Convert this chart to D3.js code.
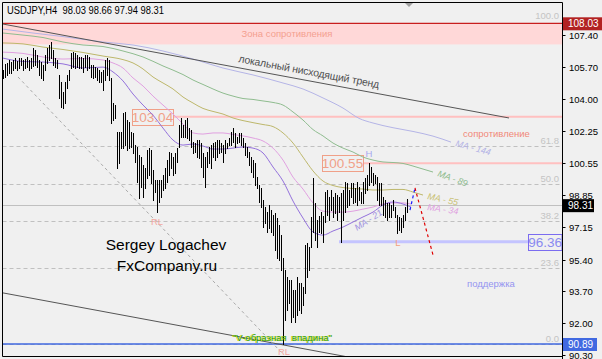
<!DOCTYPE html>
<html><head><meta charset="utf-8">
<script src="https://cdn.jsdelivr.net/npm/d3@7/dist/d3.min.js"></script>
<style>
html,body{margin:0;padding:0;background:#f0f0f0;}
svg{display:block;font-family:"Liberation Sans",Arial,sans-serif;}
</style></head><body>
<svg id="c" width="602" height="359"></svg>
<script>
// ---------------- DATA ----------------
const title = "USDJPY,H4  98.03 98.66 97.94 98.31";
const priceTicks = [107.40,105.70,104.00,102.25,100.55,98.85,97.15,95.40,93.70,92.00,90.30];

const highs = [
105.53,105.85,105.91,106.07,105.96,106.07,106.17,106.01,106.17,106.17,
106.07,106.12,106.23,106.07,106.17,106.71,106.60,106.34,106.07,105.96,
105.80,106.34,106.71,106.87,107.03,106.60,106.17,106.07,105.27,104.89,
104.36,104.89,105.27,105.53,106.44,106.50,106.44,106.34,106.23,106.23,
106.17,106.34,106.34,106.23,105.80,105.80,105.69,105.64,105.53,105.43,
105.53,106.07,106.17,106.07,105.11,103.77,103.66,102.22,102.22,102.22,
103.24,103.29,102.86,102.75,102.22,102.17,101.52,101.42,100.99,100.88,
100.46,100.30,101.26,101.36,101.26,100.19,99.65,99.65,99.65,99.65,
99.92,100.30,100.72,101.15,101.10,100.88,101.10,101.36,102.59,102.97,
102.59,102.86,102.97,102.43,102.33,101.68,101.63,101.79,101.79,101.63,
101.10,100.88,101.15,101.42,101.52,101.63,101.68,101.79,101.79,101.63,
101.52,101.79,101.63,101.90,102.22,102.43,102.17,101.95,102.17,102.17,
101.90,101.63,101.42,101.15,100.88,100.72,100.56,99.81,99.39,99.23,
98.59,98.21,97.94,98.32,98.05,97.78,97.89,97.62,97.25,96.72,
95.49,94.84,94.47,94.31,94.31,93.78,93.78,94.47,94.15,94.15,
93.93,96.18,96.29,96.07,97.67,99.76,98.43,97.52,97.73,97.94,
97.73,99.01,99.12,98.75,99.12,98.75,98.96,98.85,98.75,98.96,
99.12,99.55,99.49,99.12,99.49,99.49,99.23,99.55,99.28,99.01,
99.55,99.76,99.92,100.56,100.35,100.03,99.92,99.81,99.49,99.49,
98.74,98.59,98.43,98.43,98.32,98.59,98.21,97.78,97.68,97.62,
97.78,98.21,98.66];

const lows = [
105.11,105.16,105.27,105.37,105.37,105.53,105.64,105.53,105.64,105.80,
105.53,105.64,105.69,105.53,105.64,105.75,105.80,105.69,105.27,105.11,
105.00,105.53,105.91,106.07,106.17,105.80,105.69,105.64,104.04,103.56,
103.50,103.77,104.57,105.00,105.64,105.69,105.64,105.69,105.64,105.64,
105.43,105.69,105.53,105.64,105.16,105.11,105.16,105.00,104.89,104.89,
104.47,105.00,105.27,105.00,102.70,102.86,102.97,100.30,100.56,101.36,
101.36,101.52,101.26,101.36,101.42,101.10,100.62,99.55,98.69,99.28,
98.74,99.23,99.76,99.92,99.49,98.59,99.01,97.94,98.48,98.75,
99.12,99.23,99.55,99.92,100.30,99.92,100.03,100.62,101.42,101.95,
101.95,101.95,101.90,101.79,101.42,101.10,101.15,100.88,100.83,100.35,
99.81,99.28,100.35,100.56,100.30,100.88,100.72,100.88,101.10,101.15,
100.62,101.10,101.36,101.52,101.52,101.68,101.42,101.63,101.68,101.52,
101.42,100.99,100.88,100.46,100.08,99.81,99.39,99.23,98.48,98.21,
97.14,97.36,96.88,97.09,96.88,96.71,95.91,95.49,95.38,94.84,
90.89,92.17,92.71,93.08,92.06,92.33,92.06,92.44,92.71,92.55,
92.97,93.61,94.47,94.84,96.07,96.88,96.45,96.07,96.88,96.82,
96.34,97.41,97.78,97.52,98.05,97.68,97.89,97.52,97.94,96.34,
97.52,97.94,98.21,98.32,98.74,98.43,98.48,98.32,98.59,98.43,
98.43,98.96,99.12,99.39,99.55,99.39,99.49,98.59,98.32,98.32,
97.78,97.68,97.52,97.68,97.68,98.05,97.68,96.82,96.98,96.88,
97.14,97.52,97.94];

// moving averages, sampled [bar index, price]
const ma21 = [[0,106.17],[10,105.99],[20,105.96],[30,105.86],[40,105.64],[50,105.69],[55,105.43],[60,104.95],[65,104.25],[70,103.66],[75,103.12],[80,102.43],[85,101.79],[90,101.52],[95,101.58],[100,101.47],[105,101.31],[110,101.31],[115,101.36],[120,101.42],[125,101.36],[130,101.10],[135,100.35],[140,99.60],[145,98.53],[150,97.62],[155,96.88],[160,96.71],[165,96.93],[170,97.14],[175,97.41],[180,97.68],[185,97.94],[190,98.32],[195,98.48],[200,98.37],[204,98.21]];
const ma34 = [[0,106.49],[10,106.42],[20,106.23],[30,106.12],[40,106.15],[50,106.07],[55,105.91],[60,105.64],[65,105.11],[70,104.68],[75,104.14],[80,103.66],[85,103.18],[90,102.65],[95,102.17],[100,102.11],[105,102.17],[110,102.17],[115,102.09],[120,102.01],[125,101.90],[130,101.74],[135,101.36],[140,100.72],[145,99.81],[150,99.17],[155,98.43],[160,97.99],[165,97.94],[170,97.94],[175,97.99],[180,98.10],[185,98.21],[190,98.37],[195,98.43],[200,98.43],[204,98.37]];
const ma55 = [[0,106.98],[10,106.93],[20,106.76],[30,106.63],[40,106.47],[50,106.28],[60,106.09],[65,105.91],[70,105.59],[75,105.16],[80,104.84],[85,104.52],[90,104.09],[95,103.77],[100,103.48],[105,103.32],[110,103.18],[115,102.97],[120,102.83],[125,102.72],[130,102.62],[135,102.51],[140,102.17],[145,101.63],[150,100.88],[155,100.14],[160,99.60],[165,99.36],[170,99.25],[175,99.20],[180,99.17],[185,99.12],[190,99.12],[195,99.15],[200,99.15],[205,99.01],[210,98.85]];
const ma89 = [[0,107.51],[10,107.40],[20,107.27],[30,107.03],[40,106.87],[50,106.79],[60,106.55],[70,106.23],[80,105.75],[90,105.29],[95,105.00],[100,104.76],[105,104.52],[110,104.30],[115,104.14],[120,104.01],[125,103.96],[130,103.88],[135,103.80],[140,103.66],[145,103.29],[150,102.86],[155,102.35],[160,102.01],[165,101.63],[170,101.36],[175,101.15],[180,100.88],[185,100.72],[190,100.62],[195,100.59],[200,100.54],[205,100.40],[210,100.24],[215,100.08]];
const ma144 = [[0,107.72],[15,107.51],[30,107.32],[50,107.03],[65,106.87],[80,106.55],[95,106.12],[100,105.96],[110,105.64],[125,105.27],[140,104.84],[150,104.52],[160,104.04],[170,103.50],[178,102.95],[185,102.70],[195,102.45],[205,102.25],[215,102.00],[224,101.68]];

// drawn objects
const trendUpper = [[0,107.99],[253,102.97]];
const trendLower = [[0,93.62],[256,88.54]];
const trendDashed = [[7.5,105.16],[140,90.35]];
const forecastUp = [[203.5,98.05],[206,99.23]];
const forecastDown = [[206,99.23],[215,95.65]];
const resistanceZone = [108.03, 106.90];
const topLevel = 108.03, bottomLevel = 90.89, currentPrice = 98.31;
const fibLevels = [100.0, 61.8, 50.0, 38.2, 23.6, 0.0];
const resistLevels = [{price:103.04, from:85, boxFrom:64.5}, {price:100.55, from:180, boxFrom:159.5}];
const supportLevel = {price:96.36, from:168, to:262.5};

// ---------------- CHART ----------------
const svg = d3.select("#c");
const L = 2.5, R = 562.5, T = 2.5, B = 356.5;
const x = d3.scaleLinear().domain([0, 279.5]).range([3, 562]);
const y = d3.scaleLinear().domain([90.195, 109.115]).range([357, 3]);
const fibPrice = p => bottomLevel + (topLevel - bottomLevel) * p / 100;

svg.append("rect").attr("width",602).attr("height",359).attr("fill","#f0f0f0");
svg.append("defs").append("clipPath").attr("id","clip")
  .append("rect").attr("x",L).attr("y",T).attr("width",R-L).attr("height",B-T);
const g = svg.append("g").attr("clip-path","url(#clip)");

// resistance zone
g.append("rect").attr("x",L).attr("width",R-L)
  .attr("y",y(resistanceZone[0])).attr("height",y(resistanceZone[1])-y(resistanceZone[0]))
  .attr("fill","#ffd8d8");
g.append("text").attr("x",287).attr("y",y((resistanceZone[0]+resistanceZone[1])/2)+3.5)
  .attr("text-anchor","middle").attr("font-size",9.5).attr("fill","#f4a090").text("Зона сопротивления");

// fib dashed lines
fibLevels.forEach(f => {
  const yy = Math.round(y(fibPrice(f))) + 0.5;
  if (f !== 100) g.append("line").attr("x1",L).attr("x2",R).attr("y1",yy).attr("y2",yy)
    .attr("stroke","#c0c0c0").attr("stroke-dasharray","4,3");
  g.append("text").attr("x",559).attr("y",yy - (f===100?5:2.5)).attr("text-anchor","end")
    .attr("font-size",9.5).attr("fill","#c4c4c4").text(f.toFixed(1));
});

// current price line
g.append("line").attr("x1",L).attr("x2",R).attr("y1",Math.round(y(currentPrice))+0.5).attr("y2",Math.round(y(currentPrice))+0.5)
  .attr("stroke","#c0c0c0");

// resistance lines with boxes
resistLevels.forEach(r => {
  const yy = y(r.price);
  g.append("line").attr("x1",x(r.from)).attr("x2",R).attr("y1",yy).attr("y2",yy)
    .attr("stroke","#ffc0c0").attr("stroke-width",2);
  const bx = x(r.boxFrom), bw = x(r.from) - x(r.boxFrom);
  g.append("rect").attr("x",Math.round(bx)+0.5).attr("y",Math.round(yy-8)+0.5).attr("width",bw).attr("height",16)
    .attr("fill","none").attr("stroke","#f0a088");
  g.append("text").attr("x",bx+bw/2).attr("y",yy+5).attr("text-anchor","middle")
    .attr("font-size",13.5).attr("fill","#f0a088").text(r.price.toFixed(2));
});

// support line with box
{
  const yy = y(supportLevel.price);
  g.append("line").attr("x1",x(supportLevel.from)).attr("x2",x(supportLevel.to)).attr("y1",yy).attr("y2",yy)
    .attr("stroke","#c4c4ff").attr("stroke-width",3);
  g.append("rect").attr("x",Math.round(x(supportLevel.to))+0.5).attr("y",Math.round(yy-8)+0.5)
    .attr("width",R-x(supportLevel.to)-1).attr("height",16).attr("fill","none").attr("stroke","#7b6cf0");
  g.append("text").attr("x",(x(supportLevel.to)+R)/2).attr("y",yy+5).attr("text-anchor","middle")
    .attr("font-size",13.5).attr("fill","#8a8af0").text(supportLevel.price.toFixed(2));
}

// top / bottom level lines
g.append("line").attr("x1",L).attr("x2",R).attr("y1",y(topLevel)).attr("y2",y(topLevel)).attr("stroke","#c81e1e").attr("stroke-width",1.2);
g.append("line").attr("x1",L).attr("x2",R).attr("y1",y(bottomLevel)).attr("y2",y(bottomLevel)).attr("stroke","#4169e1").attr("stroke-width",1.5);

// moving averages
const maLine = d3.line().x(d => x(d[0])).y(d => y(d[1])).curve(d3.curveMonotoneX);
[[ma144,"#b4b4e6"],[ma89,"#8fbc8f"],[ma55,"#bdb76b"],[ma34,"#e0a0e0"],[ma21,"#9370db"]].forEach(([d,c]) => {
  g.append("path").attr("d",maLine(d)).attr("fill","none").attr("stroke",c).attr("stroke-width",1);
});

// trend lines
const seg = d3.line().x(d => x(d[0])).y(d => y(d[1]));
g.append("path").attr("d",seg(trendUpper)).attr("stroke","#555").attr("fill","none");
g.append("path").attr("d",seg(trendLower)).attr("stroke","#555").attr("fill","none");
g.append("path").attr("d",seg(trendDashed)).attr("stroke","#a8a8a8").attr("stroke-dasharray","3,3").attr("fill","none");

// bars
const barPath = highs.map((h,i) => {
  const xx = Math.round(x(i)) + 0.5;
  return `M${xx},${Math.round(y(h))}V${Math.round(y(lows[i]))+1}`;
}).join("");
g.append("path").attr("d",barPath).attr("stroke","#000").attr("stroke-width",1).attr("fill","none");

// forecast
g.append("path").attr("d",seg(forecastUp)).attr("stroke","#1a1aff").attr("stroke-width",1.2).attr("stroke-dasharray","3,3").attr("fill","none");
g.append("path").attr("d",seg(forecastDown)).attr("stroke","#e00000").attr("stroke-width",1.2).attr("stroke-dasharray","3,3").attr("fill","none");

// annotations
g.append("text").attr("transform",`translate(238,62) rotate(10.5)`).attr("font-size",10.5)
  .attr("fill","#505050").attr("textLength",143).attr("lengthAdjust","spacing").text("локальный нисходящий тренд");
g.append("text").attr("x",463).attr("y",137).attr("font-size",9.5).attr("fill","#f08878").text("сопротивление");
g.append("text").attr("x",467).attr("y",287).attr("font-size",9.5).attr("fill","#9494f0").text("поддержка");
g.append("text").attr("x",x(77)).attr("y",y(lows[77])+13).attr("text-anchor","middle").attr("font-size",9.5).attr("fill","#f4a8a0").text("RL");
g.append("text").attr("x",x(140)+1).attr("y",y(lows[140])+11).attr("text-anchor","middle").attr("font-size",9.5).attr("fill","#f4a8a0").text("RL");
g.append("text").attr("x",x(183)).attr("y",y(highs[183])-6).attr("text-anchor","middle").attr("font-size",9.5).attr("fill","#a8a8f0").text("H");
g.append("text").attr("x",x(197)+1).attr("y",y(lows[197])+13).attr("text-anchor","middle").attr("font-size",9.5).attr("fill","#f4a080").text("L");

// V-trough label
const vt = "\"V-образная  впадина\"";
g.append("text").attr("x",232).attr("y",341).attr("font-size",9.5).attr("fill","#e0e000").style("white-space","pre").text(vt);
g.append("text").attr("x",233).attr("y",341).attr("font-size",9.5).attr("fill","#1a9a1a").style("white-space","pre").text(vt);

// MA labels
const maLabels = [
  ["MA - 144", 455,146, 15, "#b4b4e6"],
  ["MA - 89", 437,176, 20, "#8fbc8f"],
  ["MA - 55", 427,199, 12, "#c8c070"],
  ["MA - 34", 427,210, 8, "#e0a0e0"],
  ["MA - 21", 357,231, -33, "#a090e0"]
];
maLabels.forEach(([t,lx,ly,a,c]) => {
  g.append("text").attr("transform",`translate(${lx},${ly}) rotate(${a})`).attr("font-size",9)
    .attr("font-style","italic").attr("fill",c).style("white-space","pre").text(t);
});

// shift marker
svg.append("path").attr("d","M405,3L413,3L409,7Z").attr("fill","#a0a0a0");

// watermark
svg.append("text").attr("x",166).attr("y",250).attr("text-anchor","middle").attr("font-size",15.5).attr("fill","#000").text("Sergey Logachev");
svg.append("text").attr("x",167).attr("y",271).attr("text-anchor","middle").attr("font-size",15.5).attr("fill","#000").text("FxCompany.ru");

// title
svg.append("text").attr("x",7).attr("y",14).attr("font-size",10).attr("fill","#000")
  .attr("textLength",157).attr("lengthAdjust","spacingAndGlyphs").style("white-space","pre").text(title);

// frame
svg.append("path").attr("d",`M${R},${T}H${L}V${B}H${R}`).attr("fill","none").attr("stroke","#000");
svg.append("line").attr("x1",R).attr("x2",R).attr("y1",T).attr("y2",359).attr("stroke","#000");

// right axis
const axis = svg.append("g");
priceTicks.forEach(p => {
  const yy = Math.round(y(p)) + 0.5;
  axis.append("line").attr("x1",R).attr("x2",R+3).attr("y1",yy).attr("y2",yy).attr("stroke","#000");
  axis.append("text").attr("x",569).attr("y",yy+3).attr("font-size",9.5).attr("fill","#000").text(p.toFixed(2));
});

// price tags
function tag(p, bg, w) {
  const yy = y(p);
  axis.append("rect").attr("x",563).attr("y",yy-6).attr("width",w).attr("height",13).attr("fill",bg);
  axis.append("text").attr("x",568).attr("y",yy+4).attr("font-size",10).attr("fill","#fff").text(p.toFixed(2));
}
tag(topLevel, "#b22222", 39);
tag(currentPrice, "#000000", 31);
tag(bottomLevel, "#4169e1", 34);
</script>
</body></html>
